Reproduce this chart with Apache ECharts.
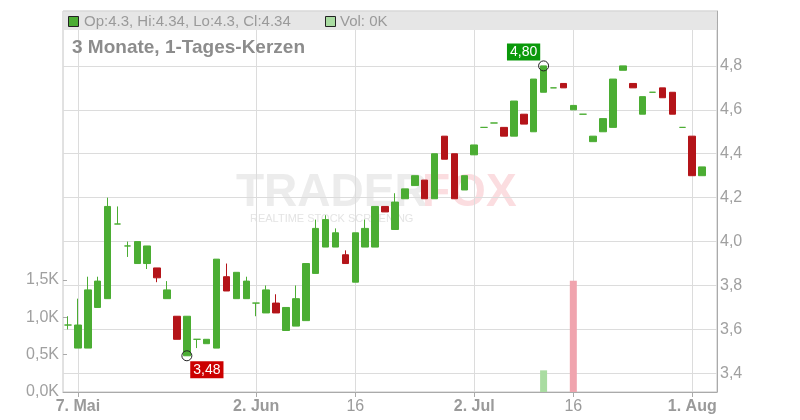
<!DOCTYPE html>
<html><head><meta charset="utf-8">
<script src="https://cdn.jsdelivr.net/npm/echarts@6/dist/echarts.min.js"></script>
<style>html,body{margin:0;padding:0;background:#fff}#c{width:800px;height:420px}</style>
</head><body><div id="c"></div>
<script>
// trading days (last one is an empty slot at the right edge of the axis)
const dates = [
 '2025-05-06','2025-05-07','2025-05-08','2025-05-09',
 '2025-05-12','2025-05-13','2025-05-14','2025-05-15','2025-05-16',
 '2025-05-19','2025-05-20','2025-05-21','2025-05-22','2025-05-23',
 '2025-05-26','2025-05-27','2025-05-28','2025-05-29','2025-05-30',
 '2025-06-02','2025-06-03','2025-06-04','2025-06-05','2025-06-06',
 '2025-06-09','2025-06-10','2025-06-11','2025-06-12','2025-06-13',
 '2025-06-16','2025-06-17','2025-06-18','2025-06-19','2025-06-20',
 '2025-06-23','2025-06-24','2025-06-25','2025-06-26','2025-06-27',
 '2025-06-30','2025-07-01','2025-07-02','2025-07-03','2025-07-04',
 '2025-07-07','2025-07-08','2025-07-09','2025-07-10','2025-07-11',
 '2025-07-14','2025-07-15','2025-07-16','2025-07-17','2025-07-18',
 '2025-07-21','2025-07-22','2025-07-23','2025-07-24','2025-07-25',
 '2025-07-28','2025-07-29','2025-07-30','2025-07-31',
 '2025-08-01','2025-08-04','2025-08-05'
];
const opens = [3.62,3.515,3.515,3.70,3.74,4.08,3.98,3.90,3.90,3.88,3.74,3.66,3.48,3.555,3.535,3.515,3.84,3.74,3.74,3.72,
 3.675,3.72,3.595,3.615,3.64,3.855,3.975,3.975,3.94,3.815,3.975,3.975,4.16,4.055,4.195,4.255,4.28,4.195,4.48,4.40,
 4.235,4.395,4.52,4.54,4.52,4.48,4.58,4.50,4.68,4.70,4.72,4.60,4.58,4.455,4.50,4.52,4.78,4.72,4.58,4.68,
 4.70,4.68,4.52,4.48,4.30];
const closes = [3.62,3.62,3.78,3.82,4.16,4.08,3.98,4.00,3.98,3.835,3.78,3.555,3.66,3.555,3.555,3.92,3.775,3.86,3.82,3.72,
 3.78,3.675,3.70,3.74,3.90,4.06,4.10,4.04,3.90,4.04,4.06,4.16,4.135,4.18,4.24,4.30,4.195,4.40,4.375,4.195,
 4.30,4.44,4.52,4.54,4.48,4.64,4.535,4.74,4.80,4.70,4.70,4.62,4.58,4.48,4.56,4.74,4.80,4.70,4.66,4.68,
 4.655,4.58,4.52,4.30,4.34];
const lows = [3.60,3.515,3.515,3.70,3.74,4.08,3.93,3.90,3.875,3.815,3.74,3.555,3.48,3.515,3.535,3.515,3.775,3.74,3.74,3.66,
 3.675,3.675,3.595,3.615,3.64,3.855,3.975,3.975,3.90,3.815,3.975,3.975,4.135,4.055,4.195,4.255,4.195,4.195,4.375,4.195,
 4.235,4.395,4.52,4.54,4.48,4.48,4.535,4.50,4.68,4.70,4.70,4.60,4.58,4.455,4.50,4.52,4.78,4.70,4.58,4.68,
 4.655,4.58,4.52,4.30,4.30];
const highs = [3.66,3.74,3.84,3.84,4.20,4.16,4.00,4.00,3.98,3.88,3.82,3.66,3.66,3.555,3.555,3.92,3.90,3.86,3.84,3.72,
 3.80,3.76,3.70,3.80,3.90,4.10,4.12,4.06,3.96,4.04,4.10,4.16,4.16,4.22,4.24,4.30,4.28,4.40,4.48,4.40,
 4.30,4.44,4.52,4.54,4.52,4.64,4.58,4.74,4.80,4.70,4.72,4.62,4.58,4.48,4.56,4.74,4.80,4.72,4.66,4.68,
 4.70,4.68,4.52,4.48,4.34];
const volumes = [0,0,0,0,0,0,0,0,0,0,0,0,0,0,0,0,0,0,0,0,
 0,0,0,0,0,0,0,0,0,0,0,0,0,0,0,0,0,0,0,0,
 0,0,0,0,0,0,0,0,290,0,0,1490,0,0,0,0,0,0,0,0,
 0,0,0,0,0];
const xTickDates = ['2025-05-07','2025-06-02','2025-06-16','2025-07-02','2025-07-16','2025-08-01'];
const xTickTexts = ['7. Mai','2. Jun','16','2. Jul','16','1. Aug'];
const volTicks = [0, 500, 1000, 1500];

const UP = '#4bad33', DOWN = '#b41419', VUP = '#a9dca1', VDOWN = '#f0a4ae';
const FONT = 'Liberation Sans, Arial, sans-serif';
const n = opens.length;

const candleData = [];
for (let i = 0; i < n; i++) {
  const item = { value: [opens[i], closes[i], lows[i], highs[i]] };
  if (opens[i] === closes[i]) item.itemStyle = { color: UP, color0: UP, borderColor: UP, borderColor0: UP };
  candleData.push(item);
}
const volData = volumes.map((v, i) => ({
  value: v,
  itemStyle: { color: (i === 0 || closes[i] >= closes[i - 1]) ? VUP : VDOWN }
}));
let iMax = 0, iMin = 0;
for (let i = 0; i < n; i++) { if (highs[i] > highs[iMax]) iMax = i; if (lows[i] < lows[iMin]) iMin = i; }
const fmt2 = v => v.toFixed(2).replace('.', ',');
const isTick = (idx, val) => xTickDates.indexOf(val) >= 0;
const last = n - 1;
const legendText = 'Op:' + opens[last] + ', Hi:' + highs[last] + ', Lo:' + lows[last] + ', Cl:' + closes[last];
const volText = 'Vol: ' + Math.round(volumes[last] / 1000) + 'K';

const chart = echarts.init(document.getElementById('c'), null, { renderer: 'canvas' });
chart.setOption({
  animation: false,
  backgroundColor: '#fff',
  textStyle: { fontFamily: FONT },
  grid: [
    { left: 63, right: 83, top: 11, bottom: 28, show: true, borderColor: '#c4c4c4', borderWidth: 1, backgroundColor: 'transparent' },
    { left: 63, right: 83, top: 280, bottom: 28 }
  ],
  xAxis: [
    {
      type: 'category', gridIndex: 0, data: dates, boundaryGap: true,
      axisLine: { show: true, lineStyle: { color: '#aaa' } },
      axisTick: { show: true, interval: isTick, alignWithLabel: true, length: 5, lineStyle: { color: '#aaa' } },
      axisLabel: {
        interval: isTick, margin: 7, fontSize: 16, color: '#9a9a9a', fontFamily: FONT,
        formatter: v => {
          const t = xTickTexts[xTickDates.indexOf(v)] || '';
          return t.indexOf(' ') >= 0 ? '{b|' + t + '}' : t;
        },
        rich: { b: { fontWeight: 'bold', fontSize: 16, color: '#9a9a9a', fontFamily: FONT } }
      },
      splitLine: { show: false }
    },
    { type: 'category', gridIndex: 1, data: dates, boundaryGap: true, show: false }
  ],
  yAxis: [
    {
      type: 'value', gridIndex: 0, position: 'right', scale: true,
      min: 3.315, max: 5.05, minInterval: 0.2, maxInterval: 0.2,
      axisLine: { show: true, lineStyle: { color: '#aaa' } },
      axisTick: { show: false },
      axisLabel: {
        margin: 3, fontSize: 16, color: '#a0a0a0', fontFamily: FONT,
        formatter: v => (v < 3.35 || v > 4.85) ? '' : v.toFixed(1).replace('.', ',')
      },
      splitLine: { show: true, lineStyle: { color: '#dcdcdc', width: 1 } }
    },
    {
      type: 'value', gridIndex: 1, position: 'left', min: volTicks[0], max: volTicks[volTicks.length - 1], interval: 500,
      axisLine: { show: false },
      axisTick: { show: true, inside: true, length: 4, lineStyle: { color: '#aaa' } },
      axisLabel: {
        margin: 4, fontSize: 16, color: '#a0a0a0', fontFamily: FONT,
        formatter: v => (v / 1000).toFixed(1).replace('.', ',') + 'K'
      },
      splitLine: { show: false }
    }
  ],
  series: [
    {
      type: 'bar', xAxisIndex: 1, yAxisIndex: 1, data: volData, barWidth: 7, z: 2
    },
    {
      type: 'candlestick', xAxisIndex: 0, yAxisIndex: 0, data: candleData, barWidth: 7, z: 3,
      itemStyle: { color: UP, color0: DOWN, borderColor: UP, borderColor0: DOWN, borderWidth: 1 },
      markLine: {
        z: 1, silent: true, symbol: ['none', 'none'], animation: false,
        label: { show: false },
        lineStyle: { color: '#dcdcdc', width: 1, type: 'solid' },
        emphasis: { disabled: true },
        data: xTickDates.map(d => ({ xAxis: d }))
      },
      markPoint: {
        z: 6, silent: true, symbol: 'circle', symbolSize: 10, animation: false,
        itemStyle: { color: 'rgba(255,255,255,0)', borderColor: '#222', borderWidth: 1 },
        label: { show: true, position: 'inside', color: '#fff', fontSize: 14, fontFamily: FONT, padding: [2, 3, 1, 3],
          formatter: p => fmt2(p.value) },
        data: [
          { coord: [dates[iMax], highs[iMax]], value: highs[iMax], label: { offset: [-20, -14], backgroundColor: '#0a990a' } },
          { coord: [dates[iMin], lows[iMin]], value: lows[iMin], label: { offset: [20, 14], backgroundColor: '#cc0000' } }
        ]
      }
    }
  ],
  graphic: [
    { type: 'text', z: 0, silent: true, x: 236, y: 193, style: { text: 'TRADER', fontSize: 46, fontWeight: 'bold', fontFamily: FONT, fill: '#ececec', verticalAlign: 'middle' } },
    { type: 'text', z: 0, silent: true, x: 422, y: 193, style: { text: 'FOX', fontSize: 46, fontWeight: 'bold', fontFamily: FONT, fill: '#fbdde0', verticalAlign: 'middle' } },
    { type: 'text', z: 0, silent: true, x: 250, y: 219, style: { text: 'REALTIME STOCK SCREENING', fontSize: 11, fontFamily: FONT, fill: '#e4e4e4', verticalAlign: 'middle' } },
    { type: 'rect', z: 100, silent: true, shape: { x: 63.5, y: 12, width: 653, height: 18 }, style: { fill: '#e6e6e6' } },
    { type: 'rect', z: 101, silent: true, shape: { x: 68.5, y: 16.5, width: 10, height: 10 }, style: { fill: UP, stroke: '#222', lineWidth: 1 } },
    { type: 'text', z: 101, silent: true, x: 84, y: 21.5, style: { text: legendText, fontSize: 15, fontFamily: FONT, fill: '#9a9a9a', verticalAlign: 'middle' } },
    { type: 'rect', z: 101, silent: true, shape: { x: 325.5, y: 16.5, width: 10, height: 10 }, style: { fill: VUP, stroke: '#222', lineWidth: 1 } },
    { type: 'text', z: 101, silent: true, x: 340, y: 21.5, style: { text: volText, fontSize: 15, fontFamily: FONT, fill: '#9a9a9a', verticalAlign: 'middle' } },
    { type: 'text', z: 101, silent: true, x: 72, y: 47.5, style: { text: '3 Monate, 1-Tages-Kerzen', fontSize: 19, fontWeight: 'bold', fontFamily: FONT, fill: '#8c8c8c', verticalAlign: 'middle' } }
  ]
});
</script></body></html>
